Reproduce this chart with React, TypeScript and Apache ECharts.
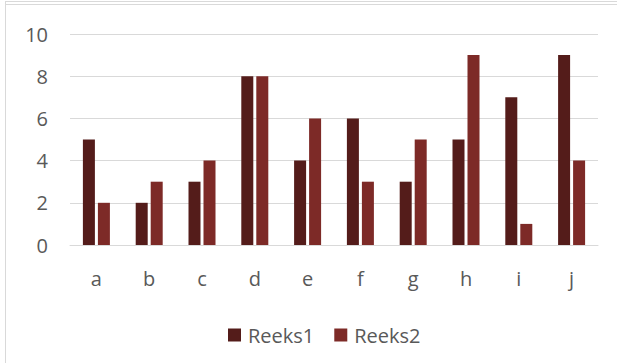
import React, { useEffect, useRef } from "react";
import * as echarts from "echarts";

const categories = ["a", "b", "c", "d", "e", "f", "g", "h", "i", "j"];
const reeks1 = [5, 2, 3, 8, 4, 6, 3, 5, 7, 9];
const reeks2 = [2, 3, 4, 8, 6, 3, 5, 9, 1, 4];
const seriesNames = ["Reeks1", "Reeks2"];

export default function App() {
  const ref = useRef<HTMLDivElement>(null);
  useEffect(() => {
    if (!ref.current) return;
    const chart = echarts.init(ref.current, null, { renderer: "svg" });
    const font = "'Open Sans', sans-serif";
    chart.setOption({
      animation: false,
      backgroundColor: "#ffffff",
      graphic: [
        { type: "line", shape: { x1: 5, y1: 1.5, x2: 617, y2: 1.5 }, style: { stroke: "#d9d9d9", lineWidth: 1 } },
        { type: "line", shape: { x1: 5, y1: 4.5, x2: 617, y2: 4.5 }, style: { stroke: "#d9d9d9", lineWidth: 1 } },
        { type: "line", shape: { x1: 5.5, y1: 1, x2: 5.5, y2: 363 }, style: { stroke: "#d9d9d9", lineWidth: 1 } },
      ],
      grid: { left: 70, right: 19, top: 34, bottom: 118 },
      legend: {
        data: seriesNames,
        left: 223,
        top: 320,
        itemWidth: 13,
        itemHeight: 13,
        itemGap: 20,
        icon: "rect",
        textStyle: { fontFamily: font, fontSize: 20, color: "#595959", padding: [0, 0, 0, 2] },
      },
      xAxis: {
        type: "category",
        data: categories,
        axisTick: { show: false },
        axisLine: { lineStyle: { color: "#d9d9d9", width: 1 } },
        axisLabel: { fontFamily: font, fontSize: 20, color: "#595959", margin: 23 },
      },
      yAxis: {
        type: "value",
        min: 0,
        max: 10,
        interval: 2,
        axisLine: { show: false },
        axisTick: { show: false },
        splitLine: { lineStyle: { color: "#d9d9d9", width: 1 } },
        axisLabel: { fontFamily: font, fontSize: 20, color: "#595959", margin: 22 },
      },
      series: [
        { name: seriesNames[0], type: "bar", data: reeks1, barWidth: 12, barGap: "25%", itemStyle: { color: "#541c1a" } },
        { name: seriesNames[1], type: "bar", data: reeks2, barWidth: 12, barGap: "25%", itemStyle: { color: "#7d2a27" } },
      ],
    });
    return () => chart.dispose();
  }, []);
  return <div ref={ref} style={{ position: "fixed", left: 0, top: 0, width: 617, height: 363 }} />;
}
